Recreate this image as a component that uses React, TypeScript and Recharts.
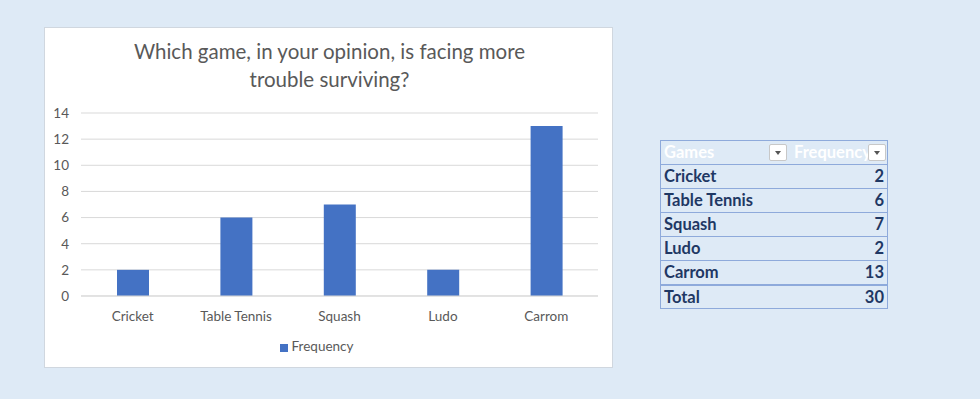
import { BarChart, Bar, XAxis, YAxis, CartesianGrid, Legend } from "recharts";

const games = ["Cricket", "Table Tennis", "Squash", "Ludo", "Carrom"];
const frequency = [2, 6, 7, 2, 13];
const yTicks = [0, 2, 4, 6, 8, 10, 12, 14];

const data = games.map((g, i) => ({ game: g, Frequency: frequency[i] }));
const total = frequency.reduce((a, b) => a + b, 0);

const font = "Lato, 'Open Sans', sans-serif";

function DropButton({ left }: { left: number }) {
	return (
		<div
			style={{
				position: "absolute",
				left,
				top: 3,
				width: 18,
				height: 17,
				background: "#fff",
				border: "1px solid #c8c8c8",
				borderRadius: 2,
				boxSizing: "border-box",
			}}
		>
			<div
				style={{
					position: "absolute",
					left: 5,
					top: 6,
					width: 0,
					height: 0,
					borderLeft: "3px solid transparent",
					borderRight: "3px solid transparent",
					borderTop: "4px solid #555",
				}}
			/>
		</div>
	);
}

function GameTable() {
	const rows = [...games.map((g, i) => [g, frequency[i]] as [string, number]), ["Total", total] as [string, number]];
	const cell: React.CSSProperties = {
		height: 23,
		borderTop: "1px solid #8eaadb",
		padding: "0 3px",
		color: "#1f3864",
		fontWeight: 700,
		fontSize: 16.5,
		fontFamily: font,
		lineHeight: "23px",
	};
	return (
		<div
			style={{
				position: "absolute",
				left: 660,
				top: 140,
				width: 228,
				border: "1px solid #8eaadb",
				boxSizing: "border-box",
			}}
		>
			<div style={{ position: "relative", height: 23 }}>
				<span style={{ ...cell, borderTop: "none", position: "absolute", left: 0, top: 0, color: "#fff" }}>Games</span>
				<span style={{ ...cell, borderTop: "none", position: "absolute", left: 130, top: 0, color: "#fff" }}>Frequency</span>
				<DropButton left={108} />
				<DropButton left={207} />
			</div>
			{rows.map(([g, v], i) => (
				<div
					key={g}
					style={{
						display: "flex",
						justifyContent: "space-between",
						...cell,
						height: i === rows.length - 1 ? 22 : 23,
						borderTop: i === rows.length - 1 ? "2px solid #8eaadb" : "1px solid #8eaadb",
					}}
				>
					<span>{g}</span>
					<span>{v}</span>
				</div>
			))}
		</div>
	);
}

export default function App() {
	return (
		<div
			style={{
				position: "absolute",
				left: 0,
				top: 0,
				width: 980,
				height: 399,
				background: "#deeaf6",
				overflow: "hidden",
			}}
		>
			<div
				style={{
					position: "absolute",
					left: 44,
					top: 27,
					width: 569,
					height: 341,
					background: "#fff",
					border: "1px solid #d0d7df",
					boxSizing: "border-box",
				}}
			>
				<div
					style={{
						position: "absolute",
						left: 0,
						top: 9,
						width: 569,
						textAlign: "center",
						fontFamily: font,
						fontSize: 20.5,
						lineHeight: "28px",
						color: "#595959",
					}}
				>
					Which game, in your opinion, is facing more
					<br />
					trouble surviving?
				</div>
				<BarChart
					width={569}
					height={341}
					data={data}
					margin={{ top: 69, right: 16, bottom: 0, left: 0 }}
					style={{ fontFamily: font }}
				>
					<CartesianGrid vertical={false} stroke="#d9d9d9" />
					<XAxis
						dataKey="game"
						stroke="#d9d9d9"
						tickLine={false}
						tick={{ fill: "#595959", fontSize: 13.5 }}
						tickMargin={9}
						height={73}
					/>
					<YAxis
						ticks={yTicks}
						domain={[0, 14]}
						width={36}
						axisLine={false}
						tickLine={false}
						tick={{ fill: "#595959", fontSize: 13.5 }}
						tickMargin={6}
					/>
					<Legend
						verticalAlign="top"
						iconType="square"
						iconSize={8}
						wrapperStyle={{ top: 310, fontSize: 13.5, color: "#595959" }}
						formatter={(v) => <span style={{ color: "#595959" }}>{v}</span>}
					/>
					<Bar dataKey="Frequency" fill="#4472c4" barSize={32} isAnimationActive={false} />
				</BarChart>
			</div>
			<GameTable />
		</div>
	);
}
